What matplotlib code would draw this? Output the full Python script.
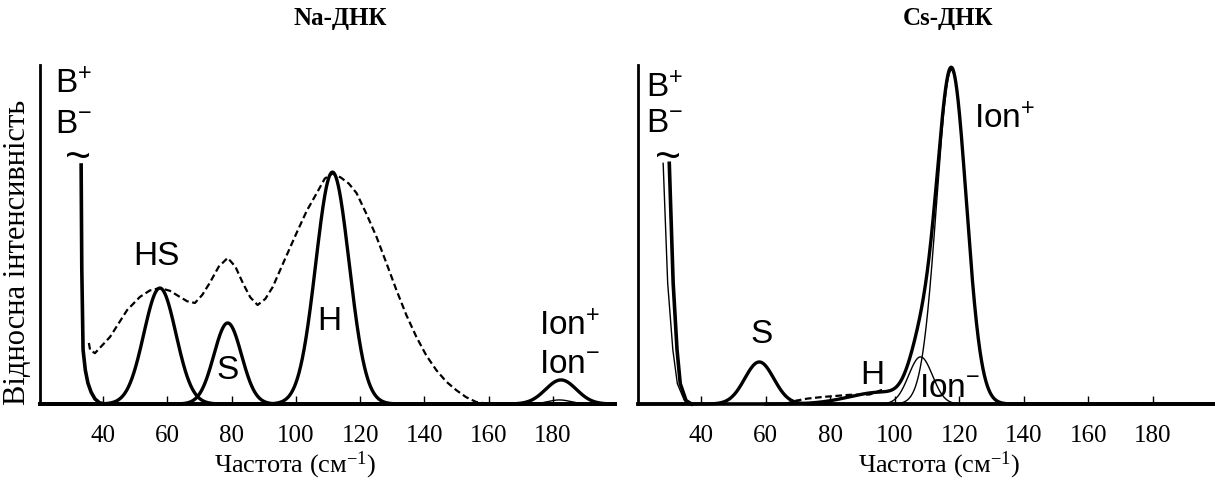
import numpy as np
import matplotlib
matplotlib.use('Agg')
import matplotlib.pyplot as plt

plt.rcParams['mathtext.default'] = 'regular'
SERIF = 'Liberation Serif'
SANS = 'Liberation Sans'

tick_freqs = [40, 60, 80, 100, 120, 140, 160, 180]
titles = ['Na-ДНК', 'Cs-ДНК']

# Na-DNA: fitted bands (centre, height, half-width)
na_centers = [57.7, 78.8, 111.4, 182.5, 182.0]
na_heights = [0.342, 0.239, 0.684, 0.071, 0.012]
na_widths = [5.0, 4.3, 5.2, 4.8, 3.5]
na_thick = [True, True, True, True, False]

# B+/B- band, cut off at the top (marked with ~)
na_spike_x = [33.2, 33.4, 33.8, 34.5, 35.3, 36.3, 37.5, 39.0, 41.0]
na_spike_y = [0.705, 0.40, 0.16, 0.10, 0.062, 0.035, 0.015, 0.003, 0.0]

# measured spectrum (dashed)
na_exp_x = [35.6, 36.0, 37.5, 42.2, 47.5, 51.5, 54.6, 57.7, 60.8, 63.9, 66.2,
            68.6, 70.9, 73.2, 76.0, 78.8, 81.2, 83.5, 85.8, 88.1, 90.5, 92.8,
            96.5, 100.2, 103.4, 106.5, 109.0, 111.4, 114.0, 116.5, 118.9,
            122.0, 125.1, 128.2, 131.3, 134.4, 137.5, 140.6, 143.7, 146.8,
            149.9, 153.0, 156.1, 160.2, 199.0]
na_exp_y = [0.18, 0.159, 0.150, 0.198, 0.277, 0.316, 0.335, 0.342, 0.334,
            0.316, 0.303, 0.298, 0.322, 0.357, 0.405, 0.431, 0.405, 0.357,
            0.315, 0.292, 0.310, 0.345, 0.425, 0.504, 0.570, 0.622, 0.665,
            0.680, 0.668, 0.650, 0.622, 0.560, 0.493, 0.415, 0.336, 0.262,
            0.198, 0.143, 0.100, 0.066, 0.041, 0.020, 0.006, 0.0, 0.0]

# Cs-DNA bands: S, H, Ion-, Ion+
cs_centers = [58.0, 96.0, 108.0, 117.6]
cs_heights = [0.124, 0.035, 0.139, 0.985]
cs_widths = [4.5, 10.0, 3.7, 4.6]

cs_spike_x = [30.1, 31.3, 32.5, 33.5, 35.3, 37.0]
cs_spike_y = [0.71, 0.357, 0.16, 0.06, 0.01, 0.0]
cs_spike2_x = [28.2, 29.6, 31.2, 32.6, 34.8, 37.0]
cs_spike2_y = [0.71, 0.357, 0.16, 0.06, 0.01, 0.0]

cs_exp_x = [66.0, 69.5, 73.0, 77.9, 82.0, 86.0, 92.2, 97.0]
cs_exp_y = [0.0, 0.010, 0.016, 0.021, 0.024, 0.027, 0.028, 0.045]
cs_tail_x = [135.0, 199.6]
cs_tail_y = [0.002, 0.002]


def band(x, c, h, w):
    return h * np.exp(-(x - c) ** 2 / (2 * w ** 2))


XMIN, XMAX = 20.4, 199.3
x = np.linspace(XMIN, XMAX, 2000)

fig = plt.figure(figsize=(12.15, 4.84), dpi=100)
ax1 = fig.add_axes([40 / 1215, 80 / 484, 575 / 1215, 339 / 484])
ax2 = fig.add_axes([638 / 1215, 80 / 484, 577 / 1215, 339 / 484])

for ax in (ax1, ax2):
    ax.set_xlim(XMIN, XMAX)
    ax.set_ylim(0, 1.0)
    for s in ('top', 'right'):
        ax.spines[s].set_visible(False)
    ax.spines['left'].set_linewidth(2.0)
    ax.spines['bottom'].set_linewidth(2.6)
    ax.set_xticks(tick_freqs)
    ax.set_xticklabels([str(t) for t in tick_freqs], family=SERIF, fontsize=18)
    ax.tick_params(axis='x', direction='in', length=6, width=1, pad=15)
    ax.set_yticks([])

# --- Na-DNA ---
ax1.plot(na_exp_x, na_exp_y, color='black', lw=1.6, ls=(0, (3, 1.6)), clip_on=False)
for c, h, w, thick in zip(na_centers, na_heights, na_widths, na_thick):
    ax1.plot(x, band(x, c, h, w), color='black', lw=2.4 if thick else 1.0, clip_on=False)
ax1.plot(na_spike_x, na_spike_y, color='black', lw=2.6, clip_on=False)

# --- Cs-DNA ---
ax2.plot(cs_spike2_x, cs_spike2_y, color='black', lw=1.0, clip_on=False)
ax2.plot(cs_spike_x, cs_spike_y, color='black', lw=2.6, clip_on=False)
ax2.plot(cs_exp_x, cs_exp_y, color='black', lw=1.6, ls=(0, (3, 1.6)), clip_on=False)
ax2.plot(cs_tail_x, cs_tail_y, color='black', lw=1.4, ls=(0, (3, 1.6)), clip_on=False)
ax2.plot(x, band(x, cs_centers[0], cs_heights[0], cs_widths[0]), color='black', lw=2.4, clip_on=False)
ax2.plot(x, band(x, cs_centers[2], cs_heights[2], cs_widths[2]), color='black', lw=1.0, clip_on=False)
ax2.plot(x, band(x, cs_centers[3], cs_heights[3], cs_widths[3]), color='black', lw=1.0, clip_on=False)
xs = x[x > 60]
total = sum(band(xs, c, h, w) for c, h, w in zip(cs_centers[1:], cs_heights[1:], cs_widths[1:]))
ax2.plot(xs, total, color='black', lw=2.4, clip_on=False)

# labels
lab = dict(family=SANS, fontsize=24, color='black')
ax1.text(25.1, 0.917, 'B$^{+}$', ha='left', va='baseline', **lab)
ax1.text(25.1, 0.799, 'B$^{-}$', ha='left', va='baseline', **lab)
ax1.text(32.2, 0.723, '~', ha='center', va='center', family=SANS, fontsize=32)
ax1.text(56.5, 0.434, 'HS', ha='center', va='center', **lab)
ax1.text(78.8, 0.100, 'S', ha='center', va='center', **lab)
ax1.text(110.5, 0.242, 'H', ha='center', va='center', **lab)
ax1.text(175.7, 0.204, 'Ion$^{+}$', ha='left', va='baseline', **lab)
ax1.text(175.7, 0.091, 'Ion$^{-}$', ha='left', va='baseline', **lab)

ax2.text(22.9, 0.906, 'B$^{+}$', ha='left', va='baseline', **lab)
ax2.text(22.9, 0.802, 'B$^{-}$', ha='left', va='baseline', **lab)
ax2.text(29.8, 0.723, '~', ha='center', va='center', family=SANS, fontsize=32)
ax2.text(58.6, 0.206, 'S', ha='center', va='center', **lab)
ax2.text(93.1, 0.083, 'H', ha='center', va='center', **lab)
ax2.text(107.4, 0.021, 'Ion$^{-}$', ha='left', va='baseline', **lab)
ax2.text(124.5, 0.814, 'Ion$^{+}$', ha='left', va='baseline', **lab)

# titles, axis labels
fig.text(340 / 1215, 1 - 18 / 484, titles[0], ha='center', va='center',
         family=SERIF, fontsize=18, fontweight='bold')
fig.text(948 / 1215, 1 - 18 / 484, titles[1], ha='center', va='center',
         family=SERIF, fontsize=18, fontweight='bold')
fig.text(295 / 1215, 1 - 465 / 484, 'Частота (см$^{-1}$)', ha='center', va='center',
         family=SERIF, fontsize=19)
fig.text(939 / 1215, 1 - 465 / 484, 'Частота (см$^{-1}$)', ha='center', va='center',
         family=SERIF, fontsize=19)
fig.text(18 / 1215, 1 - 252 / 484, 'Відносна інтенсивність', ha='center', va='center',
         rotation=90, family=SERIF, fontsize=22)

fig.savefig('out.png', dpi=100, facecolor='white')
